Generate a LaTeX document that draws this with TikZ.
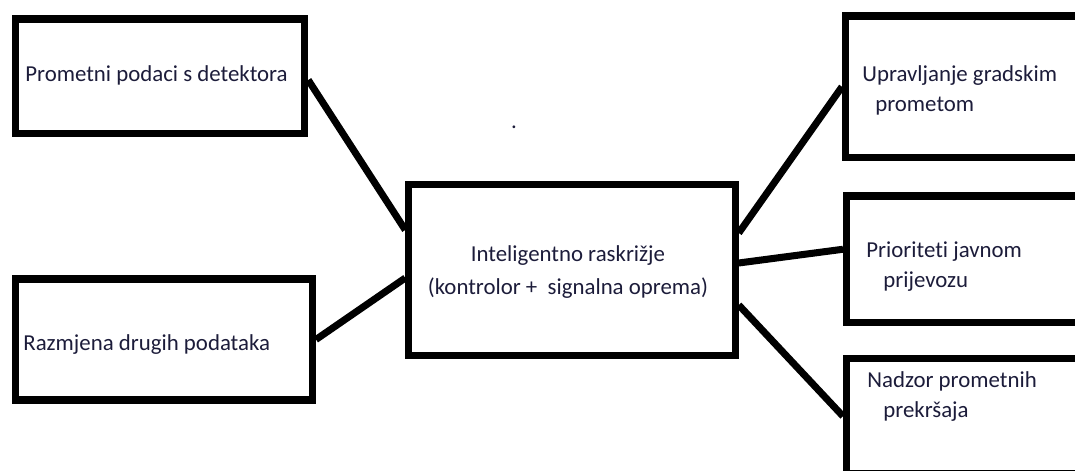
\documentclass[tikz,border=0pt]{standalone}
\usepackage{fontspec}
\setmainfont{Carlito}[Ligatures=NoCommon]
\usetikzlibrary{calc}
\definecolor{txtnavy}{HTML}{1C1C3A}

\begin{document}
\begin{tikzpicture}[x=0.02cm, y=0.02cm,
  box/.style={draw=black, line width=4pt, inner sep=0pt, fill=none},
  lbl/.style={text=txtnavy, inner sep=0pt, align=left,
              font=\fontsize{13}{17.6}\selectfont},
  conn/.style={line width=4pt, black},
]
\useasboundingbox (0,0) rectangle (1075,470);
\clip (0,0) rectangle (1075,470);

% boxes
\node[box, minimum width=5.79cm, minimum height=2.30cm] (det) at (160, 393.5) {};
\node[box, minimum width=5.94cm, minimum height=2.42cm] (raz) at (164, 130.5) {};
\node[box, minimum width=6.53cm, minimum height=3.41cm] (ras) at (572, 200) {};
\node[box, minimum width=5.29cm, minimum height=2.83cm] (upr) at (977.75, 383.25) {};
\node[box, minimum width=5.27cm, minimum height=2.53cm] (pri) at (978.25, 210.75) {};
\node[box, minimum width=5.27cm, minimum height=2.31cm] (nad) at (978.25, 53.75) {};

% texts (base = baseline of the last line)
\node[lbl, anchor=base west] (det-t) at (25, 388) {Prometni podaci s detektora};
\node[lbl, anchor=base west] (raz-t) at (23, 119) {Razmjena drugih podataka};
\node[lbl, anchor=base, align=center, font=\fontsize{13}{18.8}\selectfont] (ras-t) at (568, 175)
  {Inteligentno raskrižje\\(kontrolor +\ \ signalna oprema)};
\node[lbl, anchor=base west] (upr-t) at (862, 358)
  {Upravljanje gradskim\\\hspace*{0.26cm}prometom};
\node[lbl, anchor=base west] (pri-t) at (866, 182)
  {Prioriteti javnom\\\hspace*{0.34cm}prijevozu};
\node[lbl, anchor=base west] (nad-t) at (867, 52)
  {Nadzor prometnih\\\hspace*{0.32cm}prekršaja};
\node[lbl, anchor=base] (dot) at (514, 341) {.};

% connectors
\draw[conn] ($(det.east)+(0,-3.5)$) -- ($(ras.west)+(0,40)$);
\draw[conn] (raz.east) -- ($(ras.west)+(0,-8)$);
\draw[conn] ($(ras.east)+(0,37)$) -- (upr.west);
\draw[conn] ($(ras.east)+(0,7)$) -- ($(pri.west)+(0,10)$);
\draw[conn] ($(ras.east)+(0,-35)$) -- (nad.west);
\end{tikzpicture}
\end{document}
